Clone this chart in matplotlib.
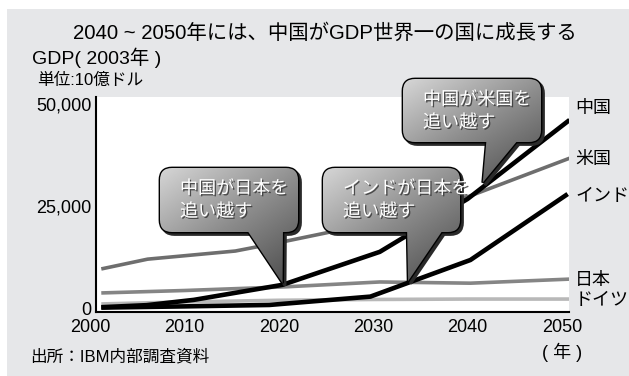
import numpy as np
import matplotlib.pyplot as plt
from matplotlib.patches import FancyBboxPatch, Polygon, Rectangle
from matplotlib.colors import LinearSegmentedColormap
import matplotlib.patheffects as pe

plt.rcParams['font.family'] = ['Liberation Sans', 'Noto Sans CJK JP']

# GDP (2003年価格, 10億ドル)
china_year = [2001.2, 2006, 2011, 2020.4, 2030.7, 2040.0, 2050.8]
china_gdp = [200, 700, 2000, 5700, 13800, 26800, 46200]
us_year = [2001.2, 2006.1, 2015.4, 2020.3, 2025.1, 2040.0, 2050.8]
us_gdp = [9600, 12000, 14000, 16200, 18500, 27300, 36800]
india_year = [2001.2, 2010, 2019, 2029.7, 2040.3, 2050.6]
india_gdp = [100, 400, 750, 2800, 11800, 28000]
japan_year = [2001.2, 2010, 2020.7, 2030.7, 2040.3, 2050.8]
japan_gdp = [3700, 4300, 5200, 6400, 6100, 7100]
germany_year = [2001.2, 2010, 2020, 2030, 2040, 2050.8]
germany_gdp = [1000, 1500, 1900, 2100, 2200, 2200]

x_ticks = [2000, 2010, 2020, 2030, 2040, 2050]
y_ticks = [0, 25000, 50000]
y_labels = ['0', '25,000', '50,000']

# series name, y pixel of label
names = [('中国', 108), ('米国', 160), ('インド', 196), ('日本', 280), ('ドイツ', 300)]

# callouts: box (px), tail base x (px), tip (data), text
callouts = [
    ((160, 168, 298, 232), (243, 283), (2020.4, 6100), ['中国が日本を', '追い越す']),
    ((323, 168, 460, 232), (407, 447), (2033.7, 6600), ['インドが日本を', '追い越す']),
    ((403, 79, 541, 142), (487, 523), (2041.6, 30800), ['中国が米国を', '追い越す']),
]

W, H = 629, 376
fig = plt.figure(figsize=(W / 100, H / 100), dpi=100)
fig.patch.set_facecolor('white')
fig.patches.append(Rectangle((7 / W, 0), 1, 1 - 9 / H, transform=fig.transFigure,
                             facecolor='#e6e7e9', edgecolor='none', zorder=-10))

ax = fig.add_axes([96 / W, 1 - 312 / H, (569 - 96) / W, (312 - 97) / H])
ax.set_facecolor('white')
ax.plot(germany_year, germany_gdp, color='#b8b8b8', lw=2.6, solid_capstyle='butt')
ax.plot(japan_year, japan_gdp, color='#858585', lw=2.6, solid_capstyle='butt')
ax.plot(us_year, us_gdp, color='#6e6e6e', lw=2.6, solid_capstyle='butt')
ax.plot(india_year, india_gdp, color='black', lw=3.3, solid_capstyle='butt')
ax.plot(china_year, china_gdp, color='black', lw=3.3, solid_capstyle='butt')

ax.set_xlim(2000.64, 2050.74)
ax.set_ylim(-980, 51840)
ax.set_xticks([])
ax.set_yticks(y_ticks, y_labels, fontsize=13)
ax.tick_params(axis='y', length=0, pad=3)
for s in ['top', 'right']:
    ax.spines[s].set_visible(False)
for s in ['left', 'bottom']:
    ax.spines[s].set_linewidth(1.5)

xt = ax.get_xaxis_transform()
for yr in x_ticks:
    ax.text(yr, -0.074, str(yr), transform=xt, ha='center', va='center',
            fontsize=13, clip_on=False)
ax.text(2050, -0.186, '( 年 )', transform=xt, ha='center', va='center', fontsize=13)

for name, py in names:
    fig.text(575 / W, 1 - py / H, name, ha='left', va='center', fontsize=13)

fig.text(325 / W, 1 - 33 / H, '2040 ~ 2050年には、中国がGDP世界一の国に成長する',
         ha='center', va='center', fontsize=14.7)
fig.text(32 / W, 1 - 58 / H, 'GDP( 2003年 )', ha='left', va='center', fontsize=14)
fig.text(37 / W, 1 - 80 / H, '単位:10億ドル', ha='left', va='center', fontsize=12)
fig.text(30 / W, 1 - 357 / H, '出所：IBM内部調査資料', ha='left', va='center', fontsize=12)

# overlay in image pixel coordinates for the callouts
ov = fig.add_axes([0, 0, 1, 1], zorder=5)
ov.set_xlim(0, W)
ov.set_ylim(H, 0)
ov.axis('off')
ov.patch.set_alpha(0)

cmap = LinearSegmentedColormap.from_list('bub', ['#d6d6d6', '#8c8c8c', '#4a4a4a'])
gy, gx = np.mgrid[0:1:100j, 0:1:100j]
grad = (0.45 * gx + 0.55 * gy)


def to_px(pt):
    d = ax.transData.transform(pt)
    return d[0], H - d[1]


for (x0, y0, x1, y1), (b0, b1), tip, lines in callouts:
    tx, ty = to_px(tip)
    tail_pts = [(b0, y1 - 8), (b1, y1 - 8), (tx, ty)]
    for off, fc, ec, lw, z in [(2.5, '#2a2a2a', '#2a2a2a', 2.0, 1), (0, 'none', 'black', 2.0, 2)]:
        box = FancyBboxPatch((x0 + off, y0 + off), x1 - x0, y1 - y0,
                             boxstyle='round,pad=0,rounding_size=12',
                             facecolor=fc, edgecolor=ec, lw=lw, zorder=z)
        ov.add_patch(box)
        tail = Polygon([(px + off, py + off) for px, py in tail_pts], closed=True,
                       facecolor=fc, edgecolor=ec, lw=lw, zorder=z, joinstyle='miter')
        ov.add_patch(tail)
        if off == 0:
            clips = [box, tail]
    bottom = max(y1, ty)
    for c in clips:
        im = ov.imshow(grad, cmap=cmap, extent=(x0, x1, bottom, y0), aspect='auto',
                       interpolation='bilinear', zorder=3)
        im.set_clip_box(None)
        im.set_clip_path(c)
    for i, line in enumerate(lines):
        ov.text(x0 + 20, y0 + 21 + 23 * i, line, color='white', fontsize=13,
                ha='left', va='center', zorder=4,
                path_effects=[pe.withSimplePatchShadow(offset=(1, -1), shadow_rgbFace='#333333', alpha=0.8)])

ov.set_xlim(0, W)
ov.set_ylim(H, 0)

fig.savefig('out.png', dpi=100)
